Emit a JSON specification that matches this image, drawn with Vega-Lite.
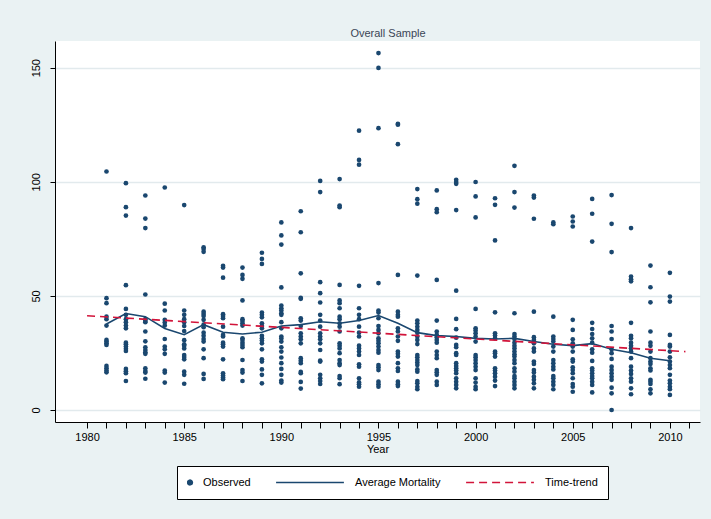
{
  "$schema": "https://vega.github.io/schema/vega-lite/v6.json",
  "width": 645,
  "height": 381,
  "autosize": {"type": "none"},
  "padding": {"left": 55, "top": 41, "right": 11, "bottom": 97},
  "background": "#eaf2f3",
  "config": {"view": {"fill": "white", "stroke": null}, "font": "Liberation Sans"},
  "title": {"text": "Overall Sample", "fontSize": 11, "fontWeight": "normal", "color": "#3a4656", "font": "Liberation Sans", "dx": 10.5, "offset": 2},
  "datasets": {
    "obs": [
      {"year":1981,"mortality":104.5},{"year":1981,"mortality":49},{"year":1981,"mortality":46.8},{"year":1981,"mortality":40.9},{"year":1981,"mortality":39.8},{"year":1981,"mortality":37},{"year":1981,"mortality":30.7},{"year":1981,"mortality":30},{"year":1981,"mortality":29.2},{"year":1981,"mortality":28.5},{"year":1981,"mortality":19.3},{"year":1981,"mortality":18.3},{"year":1981,"mortality":17.3},{"year":1981,"mortality":16.5},
      {"year":1982,"mortality":99.4},{"year":1982,"mortality":88.9},{"year":1982,"mortality":85.2},{"year":1982,"mortality":54.7},{"year":1982,"mortality":44.3},{"year":1982,"mortality":41.7},{"year":1982,"mortality":39.8},{"year":1982,"mortality":38.5},{"year":1982,"mortality":37},{"year":1982,"mortality":35.8},{"year":1982,"mortality":29.5},{"year":1982,"mortality":28.8},{"year":1982,"mortality":27.8},{"year":1982,"mortality":26.8},{"year":1982,"mortality":25.9},{"year":1982,"mortality":18},{"year":1982,"mortality":17},{"year":1982,"mortality":16.1},{"year":1982,"mortality":12.7},
      {"year":1983,"mortality":94},{"year":1983,"mortality":83.9},{"year":1983,"mortality":79.7},{"year":1983,"mortality":50.6},{"year":1983,"mortality":39.8},{"year":1983,"mortality":39},{"year":1983,"mortality":38.5},{"year":1983,"mortality":34.4},{"year":1983,"mortality":30.1},{"year":1983,"mortality":27.5},{"year":1983,"mortality":26.3},{"year":1983,"mortality":25.3},{"year":1983,"mortality":24.6},{"year":1983,"mortality":18.3},{"year":1983,"mortality":17.1},{"year":1983,"mortality":16.4},{"year":1983,"mortality":13.7},
      {"year":1984,"mortality":97.5},{"year":1984,"mortality":46.6},{"year":1984,"mortality":43.6},{"year":1984,"mortality":39.5},{"year":1984,"mortality":38.3},{"year":1984,"mortality":37},{"year":1984,"mortality":31.1},{"year":1984,"mortality":27.8},{"year":1984,"mortality":26.6},{"year":1984,"mortality":24.6},{"year":1984,"mortality":17.3},{"year":1984,"mortality":16.4},{"year":1984,"mortality":12},
      {"year":1985,"mortality":89.8},{"year":1985,"mortality":43.6},{"year":1985,"mortality":41.7},{"year":1985,"mortality":39.8},{"year":1985,"mortality":38.5},{"year":1985,"mortality":36.8},{"year":1985,"mortality":34.6},{"year":1985,"mortality":30.6},{"year":1985,"mortality":28.8},{"year":1985,"mortality":28.2},{"year":1985,"mortality":27},{"year":1985,"mortality":24.1},{"year":1985,"mortality":23.2},{"year":1985,"mortality":22.2},{"year":1985,"mortality":16.8},{"year":1985,"mortality":15.4},{"year":1985,"mortality":11.5},
      {"year":1986,"mortality":71.3},{"year":1986,"mortality":70.5},{"year":1986,"mortality":69.3},{"year":1986,"mortality":43.1},{"year":1986,"mortality":42.1},{"year":1986,"mortality":41.2},{"year":1986,"mortality":39.5},{"year":1986,"mortality":37.4},{"year":1986,"mortality":36.3},{"year":1986,"mortality":33.9},{"year":1986,"mortality":32.5},{"year":1986,"mortality":31.1},{"year":1986,"mortality":30},{"year":1986,"mortality":26.6},{"year":1986,"mortality":22.7},{"year":1986,"mortality":15.8},{"year":1986,"mortality":13.6},
      {"year":1987,"mortality":63.2},{"year":1987,"mortality":62.4},{"year":1987,"mortality":58},{"year":1987,"mortality":42},{"year":1987,"mortality":41.2},{"year":1987,"mortality":40.2},{"year":1987,"mortality":36.5},{"year":1987,"mortality":32.9},{"year":1987,"mortality":32.2},{"year":1987,"mortality":29.5},{"year":1987,"mortality":28.8},{"year":1987,"mortality":27.8},{"year":1987,"mortality":22.2},{"year":1987,"mortality":16.1},{"year":1987,"mortality":15.1},{"year":1987,"mortality":14.2},{"year":1987,"mortality":13.5},
      {"year":1988,"mortality":62.4},{"year":1988,"mortality":59.2},{"year":1988,"mortality":57.5},{"year":1988,"mortality":48},{"year":1988,"mortality":39.8},{"year":1988,"mortality":39},{"year":1988,"mortality":38},{"year":1988,"mortality":37},{"year":1988,"mortality":31.4},{"year":1988,"mortality":30.7},{"year":1988,"mortality":29.5},{"year":1988,"mortality":28.5},{"year":1988,"mortality":27.5},{"year":1988,"mortality":21.9},{"year":1988,"mortality":17.5},{"year":1988,"mortality":16.4},{"year":1988,"mortality":12.7},
      {"year":1989,"mortality":68.9},{"year":1989,"mortality":66.2},{"year":1989,"mortality":64},{"year":1989,"mortality":42.7},{"year":1989,"mortality":41.7},{"year":1989,"mortality":40.6},{"year":1989,"mortality":38},{"year":1989,"mortality":36.8},{"year":1989,"mortality":35.8},{"year":1989,"mortality":32.5},{"year":1989,"mortality":31.4},{"year":1989,"mortality":30.4},{"year":1989,"mortality":29.2},{"year":1989,"mortality":26.6},{"year":1989,"mortality":22.2},{"year":1989,"mortality":21.2},{"year":1989,"mortality":17.8},{"year":1989,"mortality":15.4},{"year":1989,"mortality":11.7},
      {"year":1990,"mortality":82.2},{"year":1990,"mortality":76.5},{"year":1990,"mortality":72.5},{"year":1990,"mortality":53.7},{"year":1990,"mortality":45.8},{"year":1990,"mortality":44.6},{"year":1990,"mortality":43.6},{"year":1990,"mortality":42.4},{"year":1990,"mortality":41.7},{"year":1990,"mortality":38.5},{"year":1990,"mortality":35.8},{"year":1990,"mortality":32.2},{"year":1990,"mortality":31.3},{"year":1990,"mortality":30},{"year":1990,"mortality":27.5},{"year":1990,"mortality":25.6},{"year":1990,"mortality":23},{"year":1990,"mortality":20.5},{"year":1990,"mortality":18},{"year":1990,"mortality":15.4},{"year":1990,"mortality":12.9},{"year":1990,"mortality":12},
      {"year":1991,"mortality":87.1},{"year":1991,"mortality":77.9},{"year":1991,"mortality":59.9},{"year":1991,"mortality":49.1},{"year":1991,"mortality":48.7},{"year":1991,"mortality":40.2},{"year":1991,"mortality":39.2},{"year":1991,"mortality":36.8},{"year":1991,"mortality":33.6},{"year":1991,"mortality":32.2},{"year":1991,"mortality":31},{"year":1991,"mortality":29.2},{"year":1991,"mortality":22.7},{"year":1991,"mortality":21.6},{"year":1991,"mortality":20.5},{"year":1991,"mortality":16.7},{"year":1991,"mortality":16.1},{"year":1991,"mortality":12.3},{"year":1991,"mortality":9.4},
      {"year":1992,"mortality":100.4},{"year":1992,"mortality":95.5},{"year":1992,"mortality":56},{"year":1992,"mortality":51.2},{"year":1992,"mortality":47.1},{"year":1992,"mortality":41.7},{"year":1992,"mortality":39.2},{"year":1992,"mortality":36.5},{"year":1992,"mortality":33.6},{"year":1992,"mortality":32.2},{"year":1992,"mortality":31},{"year":1992,"mortality":29.2},{"year":1992,"mortality":26.3},{"year":1992,"mortality":21.6},{"year":1992,"mortality":21.2},{"year":1992,"mortality":15.4},{"year":1992,"mortality":13.9},{"year":1992,"mortality":12.7},{"year":1992,"mortality":11.4},
      {"year":1993,"mortality":101.2},{"year":1993,"mortality":89.6},{"year":1993,"mortality":88.9},{"year":1993,"mortality":54.8},{"year":1993,"mortality":48},{"year":1993,"mortality":46.8},{"year":1993,"mortality":44.6},{"year":1993,"mortality":40.9},{"year":1993,"mortality":39.8},{"year":1993,"mortality":38},{"year":1993,"mortality":36.5},{"year":1993,"mortality":34.4},{"year":1993,"mortality":29.2},{"year":1993,"mortality":28.2},{"year":1993,"mortality":27},{"year":1993,"mortality":24.9},{"year":1993,"mortality":21.9},{"year":1993,"mortality":20.5},{"year":1993,"mortality":19.7},{"year":1993,"mortality":14.9},{"year":1993,"mortality":13.9},{"year":1993,"mortality":11.3},
      {"year":1994,"mortality":122.4},{"year":1994,"mortality":109.6},{"year":1994,"mortality":107.5},{"year":1994,"mortality":54.4},{"year":1994,"mortality":44.6},{"year":1994,"mortality":41.7},{"year":1994,"mortality":39.8},{"year":1994,"mortality":36.5},{"year":1994,"mortality":33.9},{"year":1994,"mortality":32.2},{"year":1994,"mortality":28.2},{"year":1994,"mortality":27},{"year":1994,"mortality":25.6},{"year":1994,"mortality":24.1},{"year":1994,"mortality":20},{"year":1994,"mortality":19},{"year":1994,"mortality":13.9},{"year":1994,"mortality":12.1},{"year":1994,"mortality":11.3},{"year":1994,"mortality":10.2},
      {"year":1995,"mortality":156.4},{"year":1995,"mortality":149.9},{"year":1995,"mortality":123.5},{"year":1995,"mortality":55.6},{"year":1995,"mortality":43.6},{"year":1995,"mortality":42.7},{"year":1995,"mortality":40.2},{"year":1995,"mortality":36.8},{"year":1995,"mortality":35.1},{"year":1995,"mortality":33.6},{"year":1995,"mortality":31.4},{"year":1995,"mortality":30.3},{"year":1995,"mortality":29.2},{"year":1995,"mortality":27.8},{"year":1995,"mortality":26.3},{"year":1995,"mortality":25.1},{"year":1995,"mortality":19.7},{"year":1995,"mortality":18.7},{"year":1995,"mortality":17.5},{"year":1995,"mortality":12.4},{"year":1995,"mortality":11.3},{"year":1995,"mortality":10.2},
      {"year":1996,"mortality":125.4},{"year":1996,"mortality":125},{"year":1996,"mortality":116.5},{"year":1996,"mortality":59.2},{"year":1996,"mortality":43.1},{"year":1996,"mortality":41.7},{"year":1996,"mortality":40.9},{"year":1996,"mortality":35.8},{"year":1996,"mortality":34.4},{"year":1996,"mortality":32.2},{"year":1996,"mortality":30.3},{"year":1996,"mortality":25.6},{"year":1996,"mortality":24.6},{"year":1996,"mortality":23.4},{"year":1996,"mortality":20.5},{"year":1996,"mortality":18.3},{"year":1996,"mortality":17.1},{"year":1996,"mortality":12.4},{"year":1996,"mortality":11.3},{"year":1996,"mortality":10.5},
      {"year":1997,"mortality":96.8},{"year":1997,"mortality":92.4},{"year":1997,"mortality":90.4},{"year":1997,"mortality":58.9},{"year":1997,"mortality":39.2},{"year":1997,"mortality":38},{"year":1997,"mortality":36.5},{"year":1997,"mortality":35.1},{"year":1997,"mortality":33.9},{"year":1997,"mortality":32.2},{"year":1997,"mortality":30.7},{"year":1997,"mortality":28.9},{"year":1997,"mortality":24.1},{"year":1997,"mortality":23.1},{"year":1997,"mortality":21.9},{"year":1997,"mortality":20.8},{"year":1997,"mortality":19.7},{"year":1997,"mortality":17.8},{"year":1997,"mortality":16.8},{"year":1997,"mortality":12.7},{"year":1997,"mortality":11.7},{"year":1997,"mortality":10.2},{"year":1997,"mortality":9.1},
      {"year":1998,"mortality":96.2},{"year":1998,"mortality":88},{"year":1998,"mortality":86.7},{"year":1998,"mortality":57},{"year":1998,"mortality":39.2},{"year":1998,"mortality":34.4},{"year":1998,"mortality":32.9},{"year":1998,"mortality":31.9},{"year":1998,"mortality":30.7},{"year":1998,"mortality":29.5},{"year":1998,"mortality":25.6},{"year":1998,"mortality":24.1},{"year":1998,"mortality":22.7},{"year":1998,"mortality":17.5},{"year":1998,"mortality":16.5},{"year":1998,"mortality":15.4},{"year":1998,"mortality":12.4},{"year":1998,"mortality":11},
      {"year":1999,"mortality":100.9},{"year":1999,"mortality":99.9},{"year":1999,"mortality":99.1},{"year":1999,"mortality":87.6},{"year":1999,"mortality":52.3},{"year":1999,"mortality":39.9},{"year":1999,"mortality":35.4},{"year":1999,"mortality":31.7},{"year":1999,"mortality":28.5},{"year":1999,"mortality":27.5},{"year":1999,"mortality":24.9},{"year":1999,"mortality":24.1},{"year":1999,"mortality":20.5},{"year":1999,"mortality":19.3},{"year":1999,"mortality":18.3},{"year":1999,"mortality":17.3},{"year":1999,"mortality":16.1},{"year":1999,"mortality":13.9},{"year":1999,"mortality":12.4},{"year":1999,"mortality":11},{"year":1999,"mortality":9.5},
      {"year":2000,"mortality":99.9},{"year":2000,"mortality":93.6},{"year":2000,"mortality":84.4},{"year":2000,"mortality":44.3},{"year":2000,"mortality":35.8},{"year":2000,"mortality":34.8},{"year":2000,"mortality":33.6},{"year":2000,"mortality":32.2},{"year":2000,"mortality":30},{"year":2000,"mortality":24.1},{"year":2000,"mortality":23.1},{"year":2000,"mortality":21.9},{"year":2000,"mortality":20.5},{"year":2000,"mortality":19},{"year":2000,"mortality":17.5},{"year":2000,"mortality":13.9},{"year":2000,"mortality":12},{"year":2000,"mortality":10.2},{"year":2000,"mortality":9.1},
      {"year":2001,"mortality":92.8},{"year":2001,"mortality":89.9},{"year":2001,"mortality":74.3},{"year":2001,"mortality":42.8},{"year":2001,"mortality":33.6},{"year":2001,"mortality":32.6},{"year":2001,"mortality":31.4},{"year":2001,"mortality":25.6},{"year":2001,"mortality":24.9},{"year":2001,"mortality":23.4},{"year":2001,"mortality":18.3},{"year":2001,"mortality":17.3},{"year":2001,"mortality":16.1},{"year":2001,"mortality":14.6},{"year":2001,"mortality":12.9},{"year":2001,"mortality":10.5},
      {"year":2002,"mortality":107},{"year":2002,"mortality":95.5},{"year":2002,"mortality":88.7},{"year":2002,"mortality":42.4},{"year":2002,"mortality":33.3},{"year":2002,"mortality":32.2},{"year":2002,"mortality":31.1},{"year":2002,"mortality":29.5},{"year":2002,"mortality":28.1},{"year":2002,"mortality":27},{"year":2002,"mortality":25.6},{"year":2002,"mortality":24.4},{"year":2002,"mortality":23.4},{"year":2002,"mortality":21.9},{"year":2002,"mortality":20.5},{"year":2002,"mortality":18.3},{"year":2002,"mortality":16.8},{"year":2002,"mortality":14.9},{"year":2002,"mortality":13.9},{"year":2002,"mortality":12.4},{"year":2002,"mortality":11},{"year":2002,"mortality":9.5},
      {"year":2003,"mortality":94},{"year":2003,"mortality":93.1},{"year":2003,"mortality":83.8},{"year":2003,"mortality":43.1},{"year":2003,"mortality":31.9},{"year":2003,"mortality":30.7},{"year":2003,"mortality":29.2},{"year":2003,"mortality":27},{"year":2003,"mortality":25.6},{"year":2003,"mortality":21.2},{"year":2003,"mortality":20.2},{"year":2003,"mortality":17.5},{"year":2003,"mortality":16.4},{"year":2003,"mortality":14.6},{"year":2003,"mortality":13.2},{"year":2003,"mortality":11.7},{"year":2003,"mortality":9.5},
      {"year":2004,"mortality":82.2},{"year":2004,"mortality":81.4},{"year":2004,"mortality":40.9},{"year":2004,"mortality":32.2},{"year":2004,"mortality":31.1},{"year":2004,"mortality":30},{"year":2004,"mortality":27.8},{"year":2004,"mortality":25.6},{"year":2004,"mortality":21.9},{"year":2004,"mortality":20.5},{"year":2004,"mortality":19},{"year":2004,"mortality":17.8},{"year":2004,"mortality":14.9},{"year":2004,"mortality":13.9},{"year":2004,"mortality":12.4},{"year":2004,"mortality":11},{"year":2004,"mortality":9.1},
      {"year":2005,"mortality":84.8},{"year":2005,"mortality":82.6},{"year":2005,"mortality":80.4},{"year":2005,"mortality":39.5},{"year":2005,"mortality":35.1},{"year":2005,"mortality":31},{"year":2005,"mortality":29.2},{"year":2005,"mortality":27.8},{"year":2005,"mortality":25.6},{"year":2005,"mortality":22.2},{"year":2005,"mortality":21.2},{"year":2005,"mortality":18.7},{"year":2005,"mortality":17.5},{"year":2005,"mortality":16.1},{"year":2005,"mortality":13.9},{"year":2005,"mortality":11.4},{"year":2005,"mortality":10.2},{"year":2005,"mortality":8},
      {"year":2006,"mortality":92.5},{"year":2006,"mortality":86},{"year":2006,"mortality":73.8},{"year":2006,"mortality":38.2},{"year":2006,"mortality":35.5},{"year":2006,"mortality":33.3},{"year":2006,"mortality":31.4},{"year":2006,"mortality":29.5},{"year":2006,"mortality":26.6},{"year":2006,"mortality":25.1},{"year":2006,"mortality":21.5},{"year":2006,"mortality":18.3},{"year":2006,"mortality":17.3},{"year":2006,"mortality":16.1},{"year":2006,"mortality":14.9},{"year":2006,"mortality":13.9},{"year":2006,"mortality":12.4},{"year":2006,"mortality":11},{"year":2006,"mortality":7.7},
      {"year":2007,"mortality":94.2},{"year":2007,"mortality":81.6},{"year":2007,"mortality":69.2},{"year":2007,"mortality":36.8},{"year":2007,"mortality":34.4},{"year":2007,"mortality":31.1},{"year":2007,"mortality":26.6},{"year":2007,"mortality":24.9},{"year":2007,"mortality":22.4},{"year":2007,"mortality":19},{"year":2007,"mortality":17.5},{"year":2007,"mortality":16.1},{"year":2007,"mortality":14.6},{"year":2007,"mortality":13.2},{"year":2007,"mortality":9.8},{"year":2007,"mortality":7.3},{"year":2007,"mortality":0},
      {"year":2008,"mortality":79.7},{"year":2008,"mortality":58.5},{"year":2008,"mortality":57.3},{"year":2008,"mortality":56.4},{"year":2008,"mortality":38.2},{"year":2008,"mortality":32.5},{"year":2008,"mortality":31.4},{"year":2008,"mortality":29.5},{"year":2008,"mortality":28.1},{"year":2008,"mortality":27},{"year":2008,"mortality":25.6},{"year":2008,"mortality":22.7},{"year":2008,"mortality":19},{"year":2008,"mortality":17.3},{"year":2008,"mortality":15.8},{"year":2008,"mortality":13.9},{"year":2008,"mortality":12.4},{"year":2008,"mortality":9.5},{"year":2008,"mortality":6.9},
      {"year":2009,"mortality":63.3},{"year":2009,"mortality":53.8},{"year":2009,"mortality":47.2},{"year":2009,"mortality":34.4},{"year":2009,"mortality":29.5},{"year":2009,"mortality":28.1},{"year":2009,"mortality":25.6},{"year":2009,"mortality":22.7},{"year":2009,"mortality":21.2},{"year":2009,"mortality":20.2},{"year":2009,"mortality":18.3},{"year":2009,"mortality":17.3},{"year":2009,"mortality":13.2},{"year":2009,"mortality":12.4},{"year":2009,"mortality":11.4},{"year":2009,"mortality":9.1},{"year":2009,"mortality":7.3},
      {"year":2010,"mortality":60.1},{"year":2010,"mortality":49.7},{"year":2010,"mortality":47.5},{"year":2010,"mortality":32.9},{"year":2010,"mortality":28.5},{"year":2010,"mortality":27.8},{"year":2010,"mortality":25.6},{"year":2010,"mortality":23.1},{"year":2010,"mortality":21.2},{"year":2010,"mortality":19.7},{"year":2010,"mortality":18.3},{"year":2010,"mortality":15.4},{"year":2010,"mortality":12.9},{"year":2010,"mortality":11.7},{"year":2010,"mortality":10.2},{"year":2010,"mortality":9.1},{"year":2010,"mortality":6.6}
    ],
    "avg": [
      {"year":1981,"mortality":37.7},{"year":1982,"mortality":42.3},{"year":1983,"mortality":40.9},{"year":1984,"mortality":35.7},{"year":1985,"mortality":33},{"year":1986,"mortality":37.4},{"year":1987,"mortality":34.1},{"year":1988,"mortality":33.3},{"year":1989,"mortality":34.1},{"year":1990,"mortality":36.8},{"year":1991,"mortality":37.4},{"year":1992,"mortality":38.7},{"year":1993,"mortality":38},{"year":1994,"mortality":39.2},{"year":1995,"mortality":41.4},{"year":1996,"mortality":38},{"year":1997,"mortality":33.9},{"year":1998,"mortality":32.6},{"year":1999,"mortality":32.2},{"year":2000,"mortality":31.4},{"year":2001,"mortality":31.1},{"year":2002,"mortality":31.4},{"year":2003,"mortality":30},{"year":2004,"mortality":28.8},{"year":2005,"mortality":28.2},{"year":2006,"mortality":29.1},{"year":2007,"mortality":26.6},{"year":2008,"mortality":25.1},{"year":2009,"mortality":22.7},{"year":2010,"mortality":21.6}
    ],
    "trend": [
      {"year":1980,"mortality":41.3},{"year":2010.8,"mortality":25.6}
    ]
  },
  "encoding": {
    "x": {"field": "year", "type": "quantitative",
      "scale": {"domain": [1978.35, 2011.55], "nice": false, "zero": false},
      "axis": {"title": "Year", "values": [1980,1981,1982,1983,1984,1985,1986,1987,1988,1989,1990,1991,1992,1993,1994,1995,1996,1997,1998,1999,2000,2001,2002,2003,2004,2005,2006,2007,2008,2009,2010,2011],
        "format": "d", "labelExpr": "datum.value % 5 === 0 ? datum.label : ''",
        "grid": false, "tickSize": 6, "tickColor": "black", "domainColor": "black", "labelColor": "black",
        "labelFontSize": 11, "labelFont": "Liberation Sans", "labelPadding": 3, "labelFlush": false, "labelOverlap": false,
        "titleFontSize": 11, "titleFontWeight": "normal", "titleFont": "Liberation Sans", "titleColor": "black", "titlePadding": 1}},
    "y": {"field": "mortality", "type": "quantitative",
      "scale": {"domain": [-5.26, 161.7], "nice": false, "zero": false},
      "axis": {"title": null, "values": [0, 50, 100, 150], "labelAngle": -90, "grid": true, "gridColor": "#e2eaed", "gridWidth": 1.5,
        "tickSize": 5, "tickColor": "black", "domainColor": "black", "labelColor": "black", "labelFontSize": 11, "labelFont": "Liberation Sans", "labelPadding": 9}},
    "color": {"field": "series", "type": "nominal",
      "scale": {"domain": ["Observed", "Average Mortality", "Time-trend"], "range": ["#1a476f", "#1a476f", "#d2143a"]},
      "legend": {"title": null, "orient": "none", "legendX": 122, "legendY": 425, "direction": "horizontal",
        "fillColor": "white", "strokeColor": "black", "padding": 10,
        "labelFont": "Liberation Sans", "labelFontSize": 11, "labelColor": "black",
        "symbolSize": 4600, "symbolType": "stroke", "clipHeight": 13, "columnPadding": 25,
        "encode": {
          "symbols": {"update": {
            "shape": {"signal": "datum.value === 'Observed' ? 'circle' : 'stroke'"},
            "size": {"signal": "datum.value === 'Observed' ? 22 : 4600"},
            "x": {"signal": "datum.value === 'Observed' ? 3 : 34"},
            "fill": {"signal": "datum.value === 'Observed' ? '#1a476f' : 'transparent'"},
            "stroke": {"signal": "datum.value === 'Time-trend' ? '#d2143a' : (datum.value === 'Observed' ? 'transparent' : '#1a476f')"},
            "strokeWidth": {"value": 1.6},
            "strokeDash": {"signal": "datum.value === 'Time-trend' ? [8, 5] : [1, 0]"},
            "opacity": {"value": 1}
          }},
          "labels": {"update": {"x": {"signal": "datum.value === 'Observed' ? 16 : 79"}}}
        }}}
  },
  "layer": [
    {"data": {"name": "obs"}, "mark": {"type": "circle", "size": 22, "opacity": 1}, "encoding": {"color": {"datum": "Observed", "type": "nominal"}}},
    {"data": {"name": "avg"}, "mark": {"type": "line", "strokeWidth": 1.6}, "encoding": {"color": {"datum": "Average Mortality", "type": "nominal"}}},
    {"data": {"name": "trend"}, "mark": {"type": "line", "strokeWidth": 1.6, "strokeDash": [8, 5]}, "encoding": {"color": {"datum": "Time-trend", "type": "nominal"}}}
  ]
}
